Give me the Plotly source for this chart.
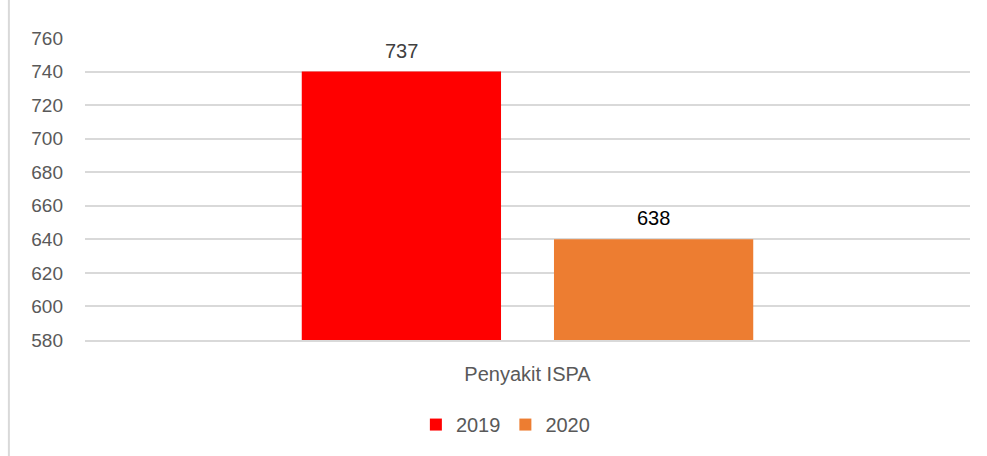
import plotly.graph_objects as go

category = ["Penyakit ISPA"]
years = ["2019", "2020"]
bar_heights = [740, 640]   # bar tops as drawn in the picture
labels = ["737", "638"]    # printed data labels
colors = ["#ff0000", "#ed7d31"]

FONT = "Liberation Sans"
GRID = "#d9d9d9"
TXT = "#595959"

fig = go.Figure()
for yr, h, col in zip(years, bar_heights, colors):
    fig.add_trace(go.Bar(x=category, y=[h], name=yr, marker_color=col,
                         marker_line_width=0))

# data labels above each bar
for i, (h, lab) in enumerate(zip(bar_heights, labels)):
    fig.add_annotation(x=category[0], y=h, text=lab, showarrow=False,
                       xref="x", yref="y", yanchor="bottom",
                       xshift=-126 if i == 0 else 126, yshift=8,
                       font=dict(family=FONT, size=20, color="#404040" if i == 0 else "#000000"))

# left chart border
fig.add_shape(type="line", xref="paper", yref="paper",
              x0=-0.086, x1=-0.086, y0=-0.39, y1=1.13,
              line=dict(color=GRID, width=2))

fig.update_layout(
    width=987, height=456,
    margin=dict(l=85, r=17, t=38, b=116),
    plot_bgcolor="white", paper_bgcolor="white",
    barmode="group", bargap=0.43, bargroupgap=0.21,
    font=dict(family=FONT, size=19, color=TXT),
    showlegend=True,
    legend=dict(orientation="h", x=0.475, xanchor="center", y=-0.28, yanchor="middle",
                font=dict(family=FONT, size=20, color=TXT), itemwidth=30),
)
fig.update_yaxes(range=[580, 760], dtick=20, showgrid=True, gridcolor=GRID,
                 gridwidth=2, zeroline=False, showline=False,
                 ticks="", ticklabelstandoff=21, tickfont=dict(size=19, color=TXT))
fig.update_xaxes(showline=True, linecolor=GRID, linewidth=2, ticks="",
                 ticklabelstandoff=15, tickfont=dict(size=20, color=TXT))

fig.write_html("out.html", config={"displayModeBar": False},
               post_script="document.body.style.margin='0';")
